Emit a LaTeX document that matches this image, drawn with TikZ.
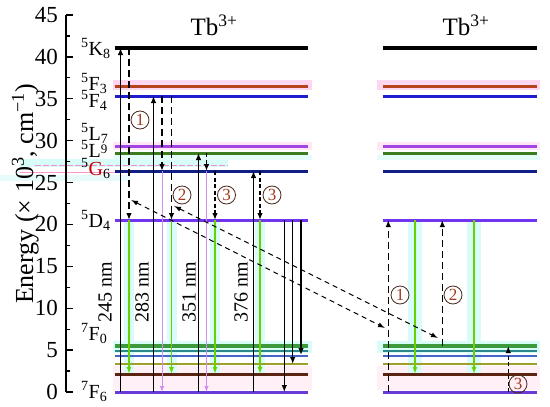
\documentclass[tikz,border=0pt]{standalone}
\usepackage{fontspec}
\setmainfont{Liberation Serif}
\usetikzlibrary{arrows.meta}
\newcommand\myfs[1]{\fontsize{#1}{#1}\selectfont}
\definecolor{cF3}{HTML}{B5431C}
\definecolor{cF4}{HTML}{1D1DCF}
\definecolor{cL7}{HTML}{A444E4}
\definecolor{cL9}{HTML}{3B7D1E}
\definecolor{cG6}{HTML}{0F1F85}
\definecolor{cD4}{HTML}{7033EE}
\definecolor{cFa}{HTML}{3C9A3C}
\definecolor{cFb}{HTML}{2A8888}
\definecolor{cFc}{HTML}{4466C8}
\definecolor{cFd}{HTML}{A0A028}
\definecolor{cFe}{HTML}{5A2410}
\definecolor{cF6}{HTML}{6A3AD8}
\definecolor{grnc}{HTML}{6CCF00}
\definecolor{vioc}{HTML}{D28EF0}
\definecolor{cyanb}{HTML}{D8FCF8}
\definecolor{pinkb}{HTML}{FFD6F0}
\definecolor{pinkl}{HTML}{FFF0F8}
\definecolor{numc}{HTML}{A33A1E}
\definecolor{numo}{HTML}{4A2A20}
\begin{document}
\begin{tikzpicture}[x=1pt,y=-1pt,
  lev/.style={line width=3pt},
  tip/.style={-{Latex[length=7pt,width=5.5pt]}},
  solidup/.style={tip,line width=1.3pt},
  ldash/.style={tip,line width=1.5pt,dash pattern=on 7pt off 4pt},
  sdash/.style={tip,line width=1.5pt,dash pattern=on 4pt off 2.5pt},
  grn/.style={draw=grnc,line width=1.8pt,-{Latex[length=7pt,width=5pt]}},
  vio/.style={draw=vioc,line width=1pt,-{Latex[length=6pt,width=4.5pt]}},
  diag/.style={line width=1pt,dash pattern=on 5pt off 4pt,{Latex[length=7pt,width=5pt]}-{Latex[length=7pt,width=5pt]}},
  num/.style={circle,draw=numo,text=numc,line width=0.8pt,inner sep=0pt,minimum size=18pt,font=\myfs{17}},
  lab/.style={anchor=base west,inner sep=0pt,font=\myfs{20}},
  wl/.style={rotate=90,inner sep=0pt,font=\myfs{20}}
]
\useasboundingbox (0,0) rectangle (550,407);
\fill[white] (0,0) rectangle (550,407);

% ---- background highlights ----
\fill[cyanb] (20,159) rectangle (228,167);
\fill[cyanb!60] (0,175) rectangle (130,181);
\draw[magenta!45,line width=0.8pt,dash pattern=on 6pt off 2pt] (35,165.5) -- (228,165.5);
\draw[magenta!40,line width=1.5pt] (20,172.7) -- (177,172.7);
\foreach \xa/\xb in {113/312,377/540}{
  \fill[pinkb] (\xa,80) rectangle (\xb,90);
  \fill[pinkb!60] (\xa,142) rectangle (\xb,150);
  \fill[cyanb!70] (\xa,155) rectangle (\xb,160);
  \fill[cyanb] (\xa,341) rectangle (\xb,353);
  \fill[pinkl] (\xa,366) rectangle (\xb,390);
}
\foreach \xc in {129,171.5,215,260}{\fill[cyanb] (\xc-5,220) rectangle (\xc+5,374);}
\foreach \xc in {415,474}{\fill[cyanb] (\xc-7,220) rectangle (\xc+7,374);}

% ---- axis ----
\draw[line width=1.5pt] (66,15) -- (66,392);
\foreach \e in {0,5,...,45}{
  \draw[line width=1.3pt] (66,{392-8.378*\e}) -- (73,{392-8.378*\e});
  \node[anchor=east,inner sep=0pt,font=\myfs{23}] (tl\e) at (58,{392-8.378*\e}) {\e};
}
\foreach \e in {2.5,7.5,...,42.5}{
  \draw[line width=1.3pt] (66,{392-8.378*\e}) -- (70,{392-8.378*\e});
}
\node[rotate=90,anchor=base,inner sep=0pt,font=\myfs{26}] (ylab) at (33,194)
  {Energy (× 10\textsuperscript{3}, cm\textsuperscript{−1})};

% ---- levels ----
\foreach \xa/\xb in {115/308,383/537}{
  \draw[lev,line width=3.3pt,black] (\xa,48) -- (\xb,48);
  \draw[lev,cF3] (\xa,86) -- (\xb,86);
  \draw[lev,cF4] (\xa,96) -- (\xb,96);
  \draw[lev,cL7] (\xa,146) -- (\xb,146);
  \draw[lev,cL9] (\xa,153) -- (\xb,153);
  \draw[lev,cG6] (\xa,171) -- (\xb,171);
  \draw[lev,cD4] (\xa,220) -- (\xb,220);
  \draw[lev,line width=4.5pt,cFa] (\xa,346) -- (\xb,346);
  \draw[lev,line width=2.3pt,cFb] (\xa,351) -- (\xb,351);
  \draw[lev,line width=2.3pt,cFc] (\xa,356) -- (\xb,356);
  \draw[lev,line width=2.3pt,cFd] (\xa,364) -- (\xb,364);
  \draw[lev,cFe] (\xa,374) -- (\xb,374);
  \draw[lev,cF6] (\xa,392) -- (\xb,392);
}

% ---- level labels ----
\node[lab] (lK8) at (81,55) {\textsuperscript{5}K\textsubscript{8}};
\node[lab] (lF3) at (81,90) {\textsuperscript{5}F\textsubscript{3}};
\node[lab] (lF4) at (81,107) {\textsuperscript{5}F\textsubscript{4}};
\node[lab] (lL7) at (81,140) {\textsuperscript{5}L\textsubscript{7}};
\node[lab] (lL9) at (81,157) {\textsuperscript{5}L\raisebox{4pt}{\myfs{13}9}};
\node[lab] (lG6) at (81,175) {\textsuperscript{5}\textcolor{red!75!black}{G}\textsubscript{6}};
\node[lab] (lD4) at (81,227) {\textsuperscript{5}D\textsubscript{4}};
\node[lab] (lF0) at (81,340) {\textsuperscript{7}F\textsubscript{0}};
\node[lab] (lF6) at (81,398) {\textsuperscript{7}F\textsubscript{6}};

% ---- titles ----
\node[font=\myfs{25},inner sep=0pt] (tb1) at (214,25) {Tb\textsuperscript{3+}};
\node[font=\myfs{25},inner sep=0pt] (tb2) at (466,25) {Tb\textsuperscript{3+}};

% ---- coordinates ----
\coordinate (a1b) at (120.5,392); \coordinate (a1t) at (120.5,48);
\coordinate (d1t) at (129,48);    \coordinate (d1b) at (129,220);  \coordinate (g1b) at (129,374);
\coordinate (a2b) at (153.5,392); \coordinate (a2t) at (153.5,96);
\coordinate (d2at) at (162,96);   \coordinate (d2ab) at (162,171); \coordinate (v1b) at (162,392);
\coordinate (d2bt) at (171.5,96); \coordinate (d2bb) at (171.5,220); \coordinate (g2b) at (171.5,374);
\coordinate (a3b) at (198.5,392); \coordinate (a3t) at (198.5,153);
\coordinate (d3at) at (206.5,153); \coordinate (d3ab) at (206.5,171); \coordinate (v2b) at (206.5,392);
\coordinate (d3bt) at (215,171);  \coordinate (d3bb) at (215,220); \coordinate (g3b) at (215,374);
\coordinate (a4b) at (253.5,392); \coordinate (a4t) at (253.5,171);
\coordinate (d4t) at (260,171);   \coordinate (d4b) at (260,220);  \coordinate (g4b) at (260,374);
\coordinate (b1t) at (284.3,220); \coordinate (b1b) at (284.3,392);
\coordinate (b2t) at (292.7,220); \coordinate (b2b) at (292.7,364);
\coordinate (b3t) at (301,220);   \coordinate (b3b) at (301,355);
\coordinate (r1b) at (388.3,392); \coordinate (r1t) at (388.3,220);
\coordinate (rg1t) at (415,220);  \coordinate (rg1b) at (415,374);
\coordinate (r2b) at (442.3,346); \coordinate (r2t) at (442.3,220);
\coordinate (rg2t) at (474,220);  \coordinate (rg2b) at (474,374);
\coordinate (r3b) at (508.3,392); \coordinate (r3t) at (508.3,346);
\coordinate (e1a) at (131,200);   \coordinate (e1b) at (385,328);
\coordinate (e2a) at (174,206);   \coordinate (e2b) at (438,338);

% ---- arrows ----
\draw[grn] (d1b) -- (g1b);
\draw[grn] (d2bb) -- (g2b);
\draw[grn] (d3bb) -- (g3b);
\draw[grn] (d4b) -- (g4b);
\draw[grn] (rg1t) -- (rg1b);
\draw[grn] (rg2t) -- (rg2b);
\draw[vio] (d2ab) -- (v1b);
\draw[vio] (d3ab) -- (v2b);

\draw[solidup] (a1b) -- (a1t);
\draw[solidup] (a2b) -- (a2t);
\draw[solidup] (a3b) -- (a3t);
\draw[solidup] (a4b) -- (a4t);
\draw[ldash] (d1t) -- (d1b);
\draw[ldash] (d2at) -- (d2ab);
\draw[ldash] (d2bt) -- (d2bb);
\draw[sdash] (d3at) -- (d3ab);
\draw[sdash] (d3bt) -- (d3bb);
\draw[sdash] (d4t) -- (d4b);
\draw[solidup] (b1t) -- (b1b);
\draw[solidup] (b2t) -- (b2b);
\draw[solidup] (b3t) -- (b3b);
\draw[ldash] (r1b) -- (r1t);
\draw[ldash] (r2b) -- (r2t);
\draw[sdash] (r3b) -- (r3t);
\draw[diag] (e1a) -- (e1b);
\draw[diag] (e2a) -- (e2b);

% ---- wavelength labels ----
\node[wl] (w1) at (105,292) {245 nm};
\node[wl] (w2) at (142,292) {283 nm};
\node[wl] (w3) at (189,292) {351 nm};
\node[wl] (w4) at (241,292) {376 nm};

% ---- circled numbers ----
\node[num] (n1) at (140,120) {1};
\node[num] (n2) at (182,195) {2};
\node[num] (n3) at (226.5,195) {3};
\node[num] (n4) at (272,195) {3};
\node[num] (n5) at (400,295) {1};
\node[num] (n6) at (453,295) {2};
\node[num] (n7) at (518,384) {3};
\end{tikzpicture}
\end{document}
